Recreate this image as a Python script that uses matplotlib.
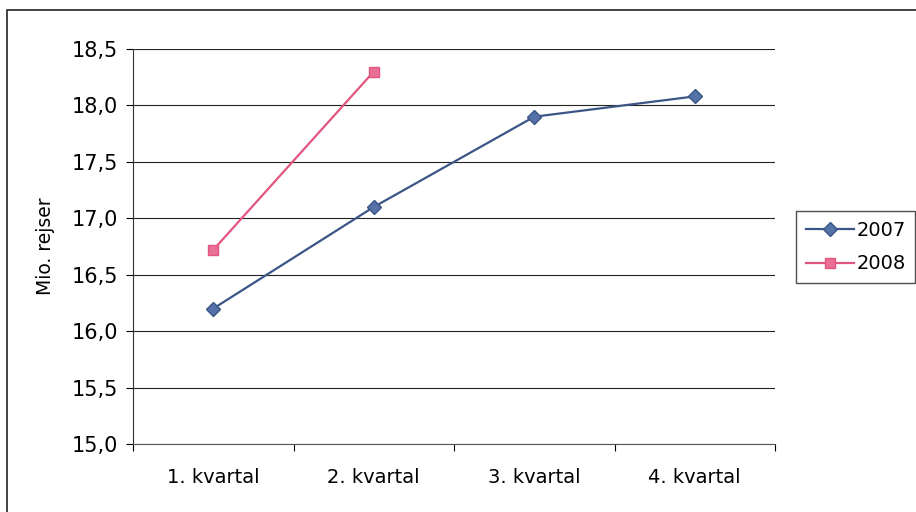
import matplotlib.pyplot as plt
from matplotlib.patches import Rectangle

# data
quarters = ["1. kvartal", "2. kvartal", "3. kvartal", "4. kvartal"]
rides_2007 = [16.2, 17.1, 17.9, 18.08]
rides_2008 = [16.72, 18.3]
yticks = [15.0, 15.5, 16.0, 16.5, 17.0, 17.5, 18.0, 18.5]

plt.rcParams['font.family'] = ['DejaVu Sans']

fig = plt.figure(figsize=(9.16, 5.12), dpi=100)
ax = fig.add_axes([133/916, 68/512, 642/916, 395/512])

# outer frame of the chart
fig.patches.append(Rectangle((7/916, -0.05), 1.2, 1.05 - 10/512,
                             transform=fig.transFigure, fill=False,
                             edgecolor="#222222", linewidth=1.2))

x = list(range(len(quarters)))
ax.plot(x, rides_2007, color="#3b5586", linewidth=1.6, marker="D", markersize=7.5,
        markerfacecolor="#5472a8", markeredgecolor="#3b5586", label="2007")
ax.plot(x[:len(rides_2008)], rides_2008, color="#e2557e", linewidth=1.6, marker="s",
        markersize=7.5, markerfacecolor="#ea6f97", markeredgecolor="#e2557e", label="2008")

ax.set_xlim(-0.5, 3.5)
ax.set_ylim(15.0, 18.5)
ax.set_yticks(yticks)
ax.set_yticklabels([f"{v:.1f}".replace(".", ",") for v in yticks], fontsize=15)
ax.set_xticks([-0.5, 0.5, 1.5, 2.5, 3.5])
ax.set_xticklabels([])
ax.set_xticks(x, minor=True)
ax.set_xticklabels(quarters, minor=True, fontsize=14)
ax.tick_params(axis="x", which="minor", length=0, pad=17)
ax.tick_params(axis="x", which="major", length=5, direction="out")
ax.tick_params(axis="y", length=5, direction="out", pad=6)
ax.yaxis.grid(True, color="#222222", linewidth=0.8)
ax.set_axisbelow(True)
for s in ["top", "right"]:
    ax.spines[s].set_visible(False)
ax.spines["left"].set_color("#333333")
ax.spines["bottom"].set_color("#555555")

ax.set_ylabel("Mio. rejser", fontsize=13.5, labelpad=12)

leg = fig.legend(loc="upper left", bbox_to_anchor=(796/916, 1 - 211/512),
                 fontsize=14, frameon=True, fancybox=False, handlelength=2.5,
                 borderpad=0.5, labelspacing=0.75, handletextpad=0.1,
                 borderaxespad=0)
leg.get_frame().set_edgecolor("#222222")
leg.get_frame().set_linewidth(1.0)

fig.savefig("out.png", dpi=100)
